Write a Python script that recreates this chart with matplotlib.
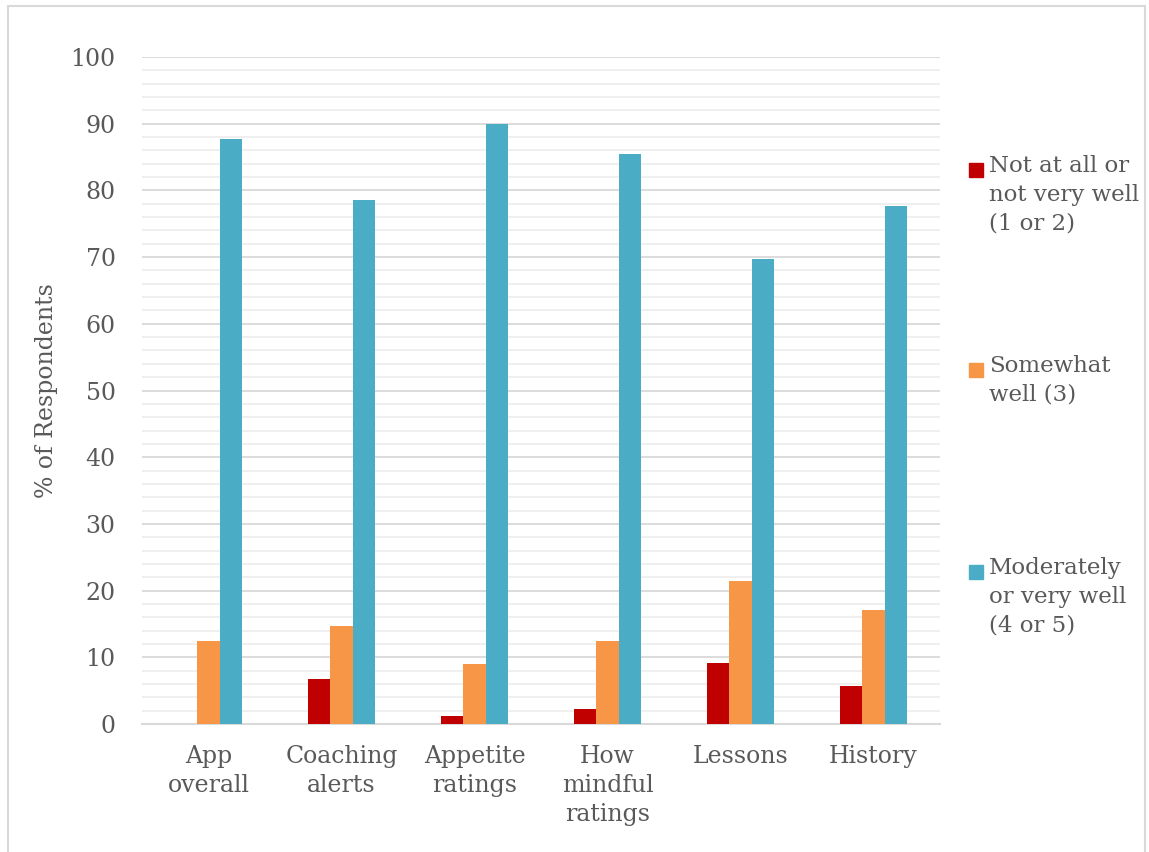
import matplotlib
matplotlib.use("Agg")
import matplotlib.pyplot as plt
from matplotlib.patches import Rectangle
from matplotlib.ticker import MultipleLocator
import numpy as np

categories = ["App\noverall", "Coaching\nalerts", "Appetite\nratings",
              "How\nmindful\nratings", "Lessons", "History"]
series_labels = ["Not at all or\nnot very well\n(1 or 2)",
                 "Somewhat\nwell (3)",
                 "Moderately\nor very well\n(4 or 5)"]
not_well = [0.0, 6.7, 1.2, 2.2, 9.1, 5.7]
somewhat_well = [12.4, 14.7, 9.0, 12.4, 21.4, 17.1]
very_well = [87.7, 78.6, 90.0, 85.5, 69.7, 77.7]
colors = ["#C00000", "#F79646", "#4BACC6"]

text_color = "#595959"
fs = 17
plt.rcParams["font.family"] = ["DejaVu Serif"]

W, H = 1149, 852
fig = plt.figure(figsize=(W / 100, H / 100), dpi=100)
ax = fig.add_axes([142 / W, 1 - 724 / H, (940 - 142) / W, (724 - 57) / H])

x = np.arange(len(categories))
bw = 0.166
for i, (vals, col) in enumerate(zip([not_well, somewhat_well, very_well], colors)):
    ax.bar(x + (i - 1) * bw, vals, width=bw, color=col, zorder=3)

ax.set_xlim(-0.5, len(categories) - 0.5)
ax.set_ylim(0, 100)
ax.yaxis.set_major_locator(MultipleLocator(10))
ax.yaxis.set_minor_locator(MultipleLocator(2))
ax.grid(axis="y", which="major", color="#d9d9d9", lw=1.3, zorder=0)
ax.grid(axis="y", which="minor", color="#eeeeee", lw=1.3, zorder=0)
ax.set_axisbelow(True)
for s in ["top", "right", "left"]:
    ax.spines[s].set_visible(False)
ax.spines["bottom"].set_color("#d9d9d9")
ax.spines["bottom"].set_linewidth(1.5)

ax.set_xticks(x)
ax.set_xticklabels(categories, linespacing=1.35)
ax.tick_params(axis="both", which="both", length=0, labelsize=fs, colors=text_color)
ax.tick_params(axis="y", pad=19)
ax.tick_params(axis="x", pad=15)

ax.set_ylabel("% of Respondents", fontsize=fs, color=text_color)
ax.yaxis.set_label_coords((58 - 142) / 798, 0.5)

# legend drawn as squares with labels on the right
legend_rows = [170, 370, 572]
for lab, col, yp in zip(series_labels, colors, legend_rows):
    fig.patches.append(Rectangle((969 / W, 1 - (yp + 7) / H), 14 / W, 14 / H,
                                 transform=fig.transFigure, color=col))
    fig.text(989 / W, 1 - (yp - 15) / H, lab, fontsize=16.5, color=text_color,
             va="top", ha="left", linespacing=1.4)

# chart frame
fig.patches.append(Rectangle((8 / W, -0.05), (1145 - 8) / W, 1.05 - 6 / H,
                             transform=fig.transFigure, fill=False,
                             edgecolor="#d9d9d9", lw=1.5))

fig.savefig("out.png", dpi=100)
